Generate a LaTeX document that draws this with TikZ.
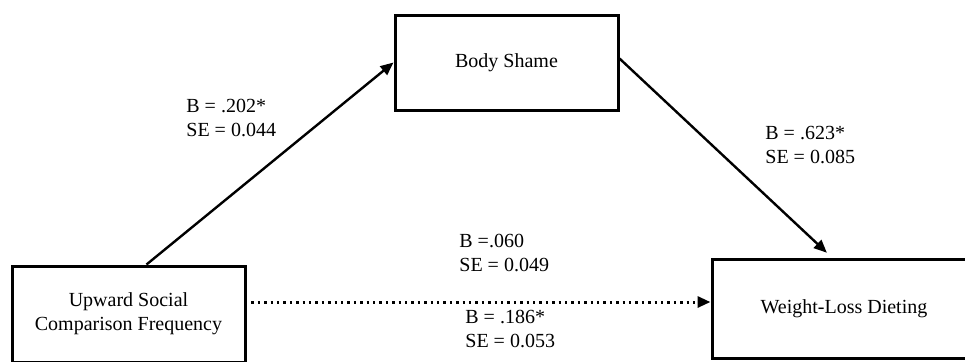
\documentclass[tikz,border=0pt]{standalone}
\usepackage{fontspec}
\setmainfont{Liberation Serif}
\usetikzlibrary{arrows.meta}
\tikzset{
	varbox/.style={draw, line width=1.5pt, rectangle, align=center, font=\fontsize{10}{12}\selectfont},
	path/.style={line width=1.2pt, -{Triangle[length=6.5pt,width=5.5pt]}},
	coef/.style={anchor=west, inner sep=0pt, align=left, font=\fontsize{10}{12}\selectfont}
}
\begin{document}
\begin{tikzpicture}[x=0.5pt,y=-0.5pt]
		\useasboundingbox (0,0) rectangle (965,361);
		\node[varbox, minimum width=116.5pt, minimum height=48pt] (usc) at (128.5,314) {Upward Social\\Comparison Frequency};
		\node[varbox, minimum width=111.5pt, minimum height=47.5pt] (shame) at (506.5,62.5) {Body Shame};
		\node[varbox, minimum width=132pt, minimum height=49.5pt] (diet) at (844,308.5) {Weight-Loss Dieting};
		\coordinate (dstart) at (245,302);
		\draw[path] ([xshift=9pt]usc.north) -- (shame.west);
		\draw[path, shorten >=3.5pt] ([yshift=2pt]shame.east) -- ([xshift=-6pt]diet.north);
		\draw[path, dotted, line width=1.5pt] (dstart) -- (dstart -| diet.west);
		\node[coef] (ba) at (186,118) {B = .202*\\SE = 0.044};
		\node[coef] (bb) at (765,145) {B = .623*\\SE = 0.085};
		\node[coef] (cp) at (459,253) {B =.060\\SE = 0.049};
		\node[coef] (ct) at (465,329) {B = .186*\\SE = 0.053};
	\end{tikzpicture}
\end{document}
